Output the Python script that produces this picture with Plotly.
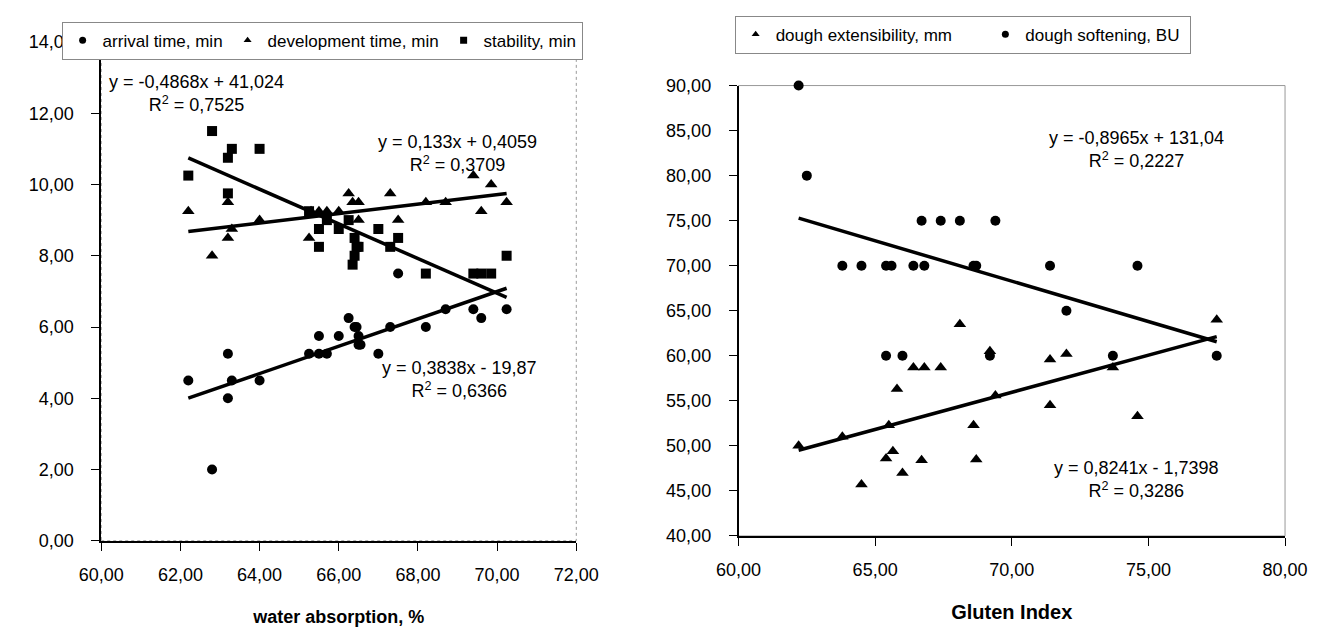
import numpy as np
import plotly.graph_objects as go

# ---------------- Left panel: water absorption, % ----------------
arrival_x = [62.2, 62.8, 63.2, 63.2, 63.3, 64.0, 65.25, 65.5, 65.5, 65.7, 66.0, 66.25, 66.4, 66.45,
             66.5, 66.5, 66.55, 67.0, 67.3, 67.5, 68.2, 68.7, 69.4, 69.6, 70.24]
arrival_y = [4.5, 2.0, 5.25, 4.0, 4.5, 4.5, 5.25, 5.75, 5.25, 5.25, 5.75, 6.25, 6.0, 6.0,
             5.75, 5.5, 5.5, 5.25, 6.0, 7.5, 6.0, 6.5, 6.5, 6.25, 6.5]

develop_x = [62.2, 62.8, 63.2, 63.2, 63.3, 64.0, 65.25, 65.3, 65.5, 65.7, 66.0, 66.25, 66.35, 66.5,
             66.5, 67.3, 67.5, 68.2, 68.7, 69.4, 69.6, 69.85, 70.24]
develop_y = [9.25, 8.0, 9.5, 8.5, 8.75, 9.0, 8.5, 9.25, 9.25, 9.25, 9.25, 9.75, 9.5, 9.5,
             9.0, 9.75, 9.0, 9.5, 9.5, 10.25, 9.25, 10.0, 9.5]

stability_x = [62.2, 62.8, 63.2, 63.3, 64.0, 63.2, 65.25, 65.5, 65.5, 65.7, 66.0, 66.25, 66.4, 66.45,
               66.4, 66.35, 66.5, 67.0, 67.3, 67.5, 68.2, 69.4, 69.6, 69.85, 70.24]
stability_y = [10.25, 11.5, 10.75, 11.0, 11.0, 9.75, 9.25, 8.75, 8.25, 9.0, 8.75, 9.0, 8.5, 8.25,
               8.0, 7.75, 8.25, 8.75, 8.25, 8.5, 7.5, 7.5, 7.5, 7.5, 8.0]

# trendline coefficients (slope, intercept, R2) as printed on the chart
arrival_fit = (0.3838, -19.87, 0.6366)
develop_fit = (0.133, 0.4059, 0.3709)
stability_fit = (-0.4868, 41.024, 0.7525)

# ---------------- Right panel: Gluten Index ----------------
extens_x = [62.2, 63.8, 64.5, 65.4, 65.5, 65.65, 65.8, 66.0, 66.4, 66.7, 66.8, 67.4, 68.1, 68.6,
            68.7, 69.2, 69.4, 71.4, 71.4, 72.0, 73.7, 74.6, 77.5]
extens_y = [50.0, 51.0, 45.7, 48.6, 52.3, 49.4, 56.3, 47.0, 58.7, 48.4, 58.7, 58.7, 63.5, 52.3,
            48.5, 60.5, 55.6, 54.5, 59.6, 60.2, 58.7, 53.3, 64.0]

soften_x = [62.2, 62.5, 63.8, 64.5, 65.4, 65.4, 65.6, 66.0, 66.4, 66.7, 66.8, 67.4, 68.1, 68.6,
            68.7, 69.2, 69.4, 71.4, 72.0, 73.7, 74.6, 77.5]
soften_y = [90, 80, 70, 70, 70, 60, 70, 60, 70, 75, 70, 75, 75, 70,
            70, 60, 75, 70, 65, 60, 70, 60]

extens_fit = (0.8241, -1.7398, 0.3286)
soften_fit = (-0.8965, 131.04, 0.2227)

FONT = "Liberation Sans, Arial, sans-serif"
W, H = 1337, 637
NB = "\u00a0"


def fmt(v, nd):
    return f"{abs(v):.{nd}f}".replace(".", ",")


def eq_text(fit, nd_s, nd_i):
    s, i, r2 = fit
    sign = "+" if i >= 0 else "-"
    ss = ("-" if s < 0 else "") + fmt(s, nd_s)
    return f"y = {ss}x {sign} {fmt(i, nd_i)}<br>R<sup>2</sup> = {fmt(r2, 4)}"


fig = go.Figure()


def add_series(x, y, name, symbol, size, xa, ya, legend, pad=0):
    fig.add_trace(go.Scatter(x=x, y=y, mode="markers", name=name, showlegend=False,
                             marker=dict(symbol=symbol, size=size, color="black"),
                             xaxis=xa, yaxis=ya, cliponaxis=False))
    # small legend swatch
    fig.add_trace(go.Scatter(x=[None], y=[None], mode="markers", name=name + NB * pad,
                             legend=legend,
                             marker=dict(symbol=symbol, size=7, color="black"),
                             xaxis=xa, yaxis=ya))


def add_fit(x, fit, xa, ya):
    xs = np.array([min(x), max(x)])
    ys = fit[0] * xs + fit[1]
    fig.add_trace(go.Scatter(x=xs, y=ys, mode="lines", showlegend=False,
                             line=dict(color="black", width=3.5), xaxis=xa, yaxis=ya))


add_fit(stability_x, stability_fit, "x", "y")
add_fit(develop_x, develop_fit, "x", "y")
add_fit(arrival_x, arrival_fit, "x", "y")
add_series(arrival_x, arrival_y, "arrival time, min", "circle", 10, "x", "y", "legend")
add_series(develop_x, develop_y, "development time, min", "triangle-up", 11, "x", "y", "legend")
add_series(stability_x, stability_y, "stability, min", "square", 10, "x", "y", "legend")

add_fit(extens_x, extens_fit, "x2", "y2")
add_fit(soften_x, soften_fit, "x2", "y2")
add_series(extens_x, extens_y, "dough extensibility, mm", "triangle-up", 11, "x2", "y2", "legend2", pad=6)
add_series(soften_x, soften_y, "dough softening, BU", "circle", 10, "x2", "y2", "legend2", pad=1)

# plot-area pixel boxes
L_left, L_right, L_top, L_bot = 81, 573, 33, 548
R_left, R_right, R_top, R_bot = 741, 1307, 78, 543


def dom_x(a, b):
    return [a / W, b / W]


def dom_y(top, bot):
    return [1 - bot / H, 1 - top / H]


axis_common = dict(showgrid=False, zeroline=False, ticks="outside", ticklen=8, tickwidth=1,
                   tickcolor="black", showline=True, linecolor="black", linewidth=1.5,
                   tickfont=dict(family=FONT, size=18, color="black"), tickformat=".2f")

fig.update_layout(
    width=W, height=H, margin=dict(l=0, r=0, t=0, b=0),
    paper_bgcolor="white", plot_bgcolor="white", separators=",.",
    font=dict(family=FONT, color="black"),
    xaxis=dict(domain=dom_x(L_left, L_right), range=[60, 72], dtick=2, tick0=60, anchor="y",
               ticklabelstandoff=9,
               title=dict(text="water absorption, %", standoff=26,
                          font=dict(family=FONT, size=18, weight="bold", color="black")),
               **axis_common),
    yaxis=dict(domain=dom_y(L_top, L_bot), range=[0, 14], dtick=2, tick0=0, anchor="x",
               ticklabelstandoff=14, **axis_common),
    xaxis2=dict(domain=dom_x(R_left, R_right), range=[60, 80], dtick=5, tick0=60, anchor="y2",
                ticklabelstandoff=9,
                title=dict(text="Gluten Index", standoff=26,
                           font=dict(family=FONT, size=20, weight="bold", color="black")),
                **axis_common),
    yaxis2=dict(domain=dom_y(R_top, R_bot), range=[40, 90], dtick=5, tick0=40, anchor="x2",
                ticklabelstandoff=14, **axis_common),
    legend=dict(orientation="h", x=40 / W, y=1 - 12 / H, xanchor="left", yanchor="top",
                bgcolor="white", bordercolor="#888", borderwidth=1,
                font=dict(family=FONT, size=17, color="black"), itemwidth=30,
                tracegroupgap=0),
    legend2=dict(orientation="h", x=737 / W, y=1 - 6 / H, xanchor="left", yanchor="top",
                 bgcolor="white", bordercolor="#888", borderwidth=1,
                 font=dict(family=FONT, size=17, color="black"), itemwidth=30),
)

# plot-area frames (top/right edges)
fig.add_shape(type="rect", xref="x domain", yref="y domain", x0=0, x1=1, y0=0, y1=1,
              line=dict(color="#999", width=1, dash="dot"), layer="below")
fig.add_shape(type="rect", xref="x2 domain", yref="y2 domain", x0=0, x1=1, y0=0, y1=1,
              line=dict(color="#999", width=1), layer="below")

ann_font = dict(family=FONT, size=18, color="black")
fig.add_annotation(x=62.4, y=12.55, xref="x", yref="y", text=eq_text(stability_fit, 4, 3),
                   showarrow=False, font=ann_font, align="center")
fig.add_annotation(x=69.0, y=10.87, xref="x", yref="y", text=eq_text(develop_fit, 3, 4),
                   showarrow=False, font=ann_font, align="center")
fig.add_annotation(x=69.05, y=4.54, xref="x", yref="y", text=eq_text(arrival_fit, 4, 2),
                   showarrow=False, font=ann_font, align="center")
fig.add_annotation(x=74.56, y=82.85, xref="x2", yref="y2", text=eq_text(soften_fit, 4, 2),
                   showarrow=False, font=ann_font, align="center")
fig.add_annotation(x=74.56, y=46.3, xref="x2", yref="y2", text=eq_text(extens_fit, 4, 4),
                   showarrow=False, font=ann_font, align="center")

fig.write_html("out.html", config={"displayModeBar": False},
               post_script="document.body.style.margin='0';document.body.style.overflow='hidden';")
